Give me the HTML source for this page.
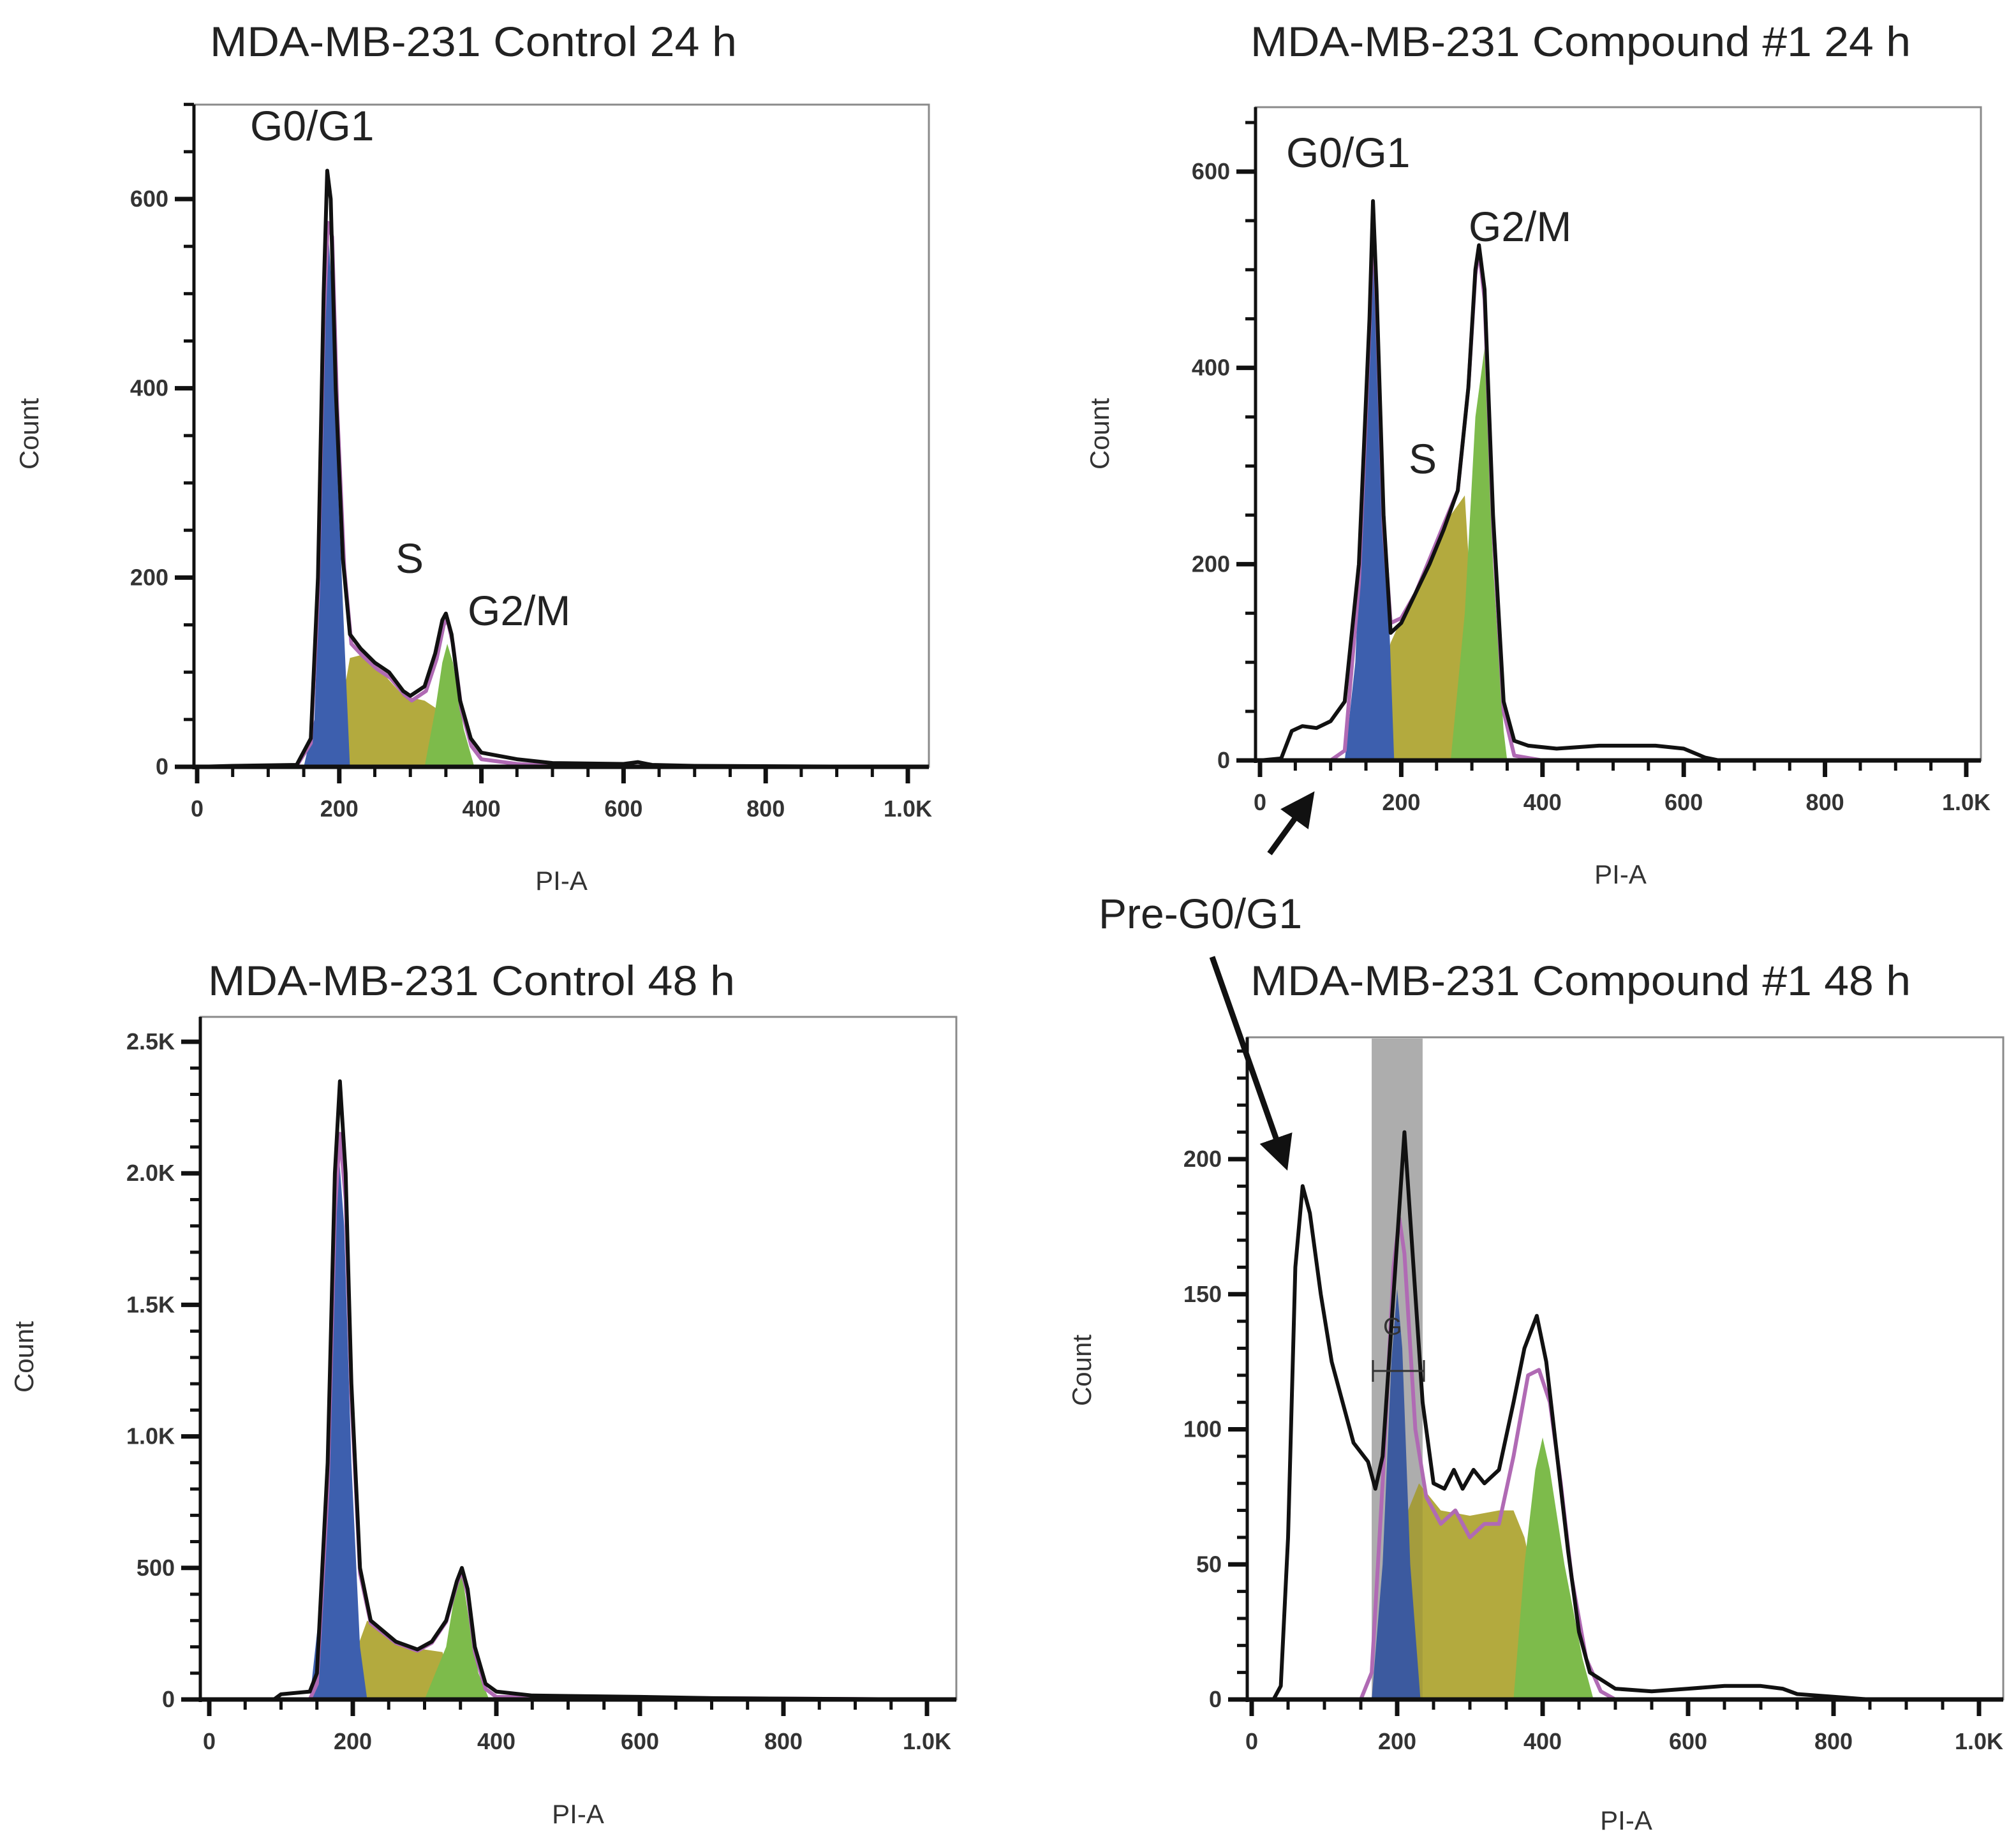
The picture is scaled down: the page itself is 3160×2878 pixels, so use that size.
<!DOCTYPE html>
<html><head><meta charset="utf-8">
<style>
html,body{margin:0;padding:0;background:#fff;}
svg{display:block;}
text{font-family:"Liberation Sans",Arial,sans-serif;}
</style></head>
<body>
<svg id="fig" width="3160" height="2878" viewBox="0 0 3160 2878" xmlns="http://www.w3.org/2000/svg">
<rect width="3160" height="2878" fill="#fff"/>
</svg>
<script>
// ---------- Data (PI-A value, Count) ----------
// Panel 1: Control 24 h
const p1BlackX = [0,50,140,160,170,178,183,188,195,205,215,230,250,270,290,300,320,335,345,350,358,370,385,400,450,500,600,620,640,700,1000];
const p1BlackY = [0,1,2,30,200,500,630,600,400,220,140,125,110,100,80,75,85,120,155,162,140,70,30,15,8,4,3,5,2,1,0];
const p1PurpX = [0,50,140,160,170,178,184,190,197,207,217,232,252,272,292,302,322,337,347,352,360,372,386,400,450,500,700,1000];
const p1PurpY = [0,0,1,25,180,470,575,560,380,210,130,118,104,94,76,70,80,114,150,156,130,60,22,8,3,1,0,0];
const p1BlueX = [150,165,172,178,184,190,198,208,215];
const p1BlueY = [0,50,200,450,570,500,300,120,0];
const p1OliveX = [185,200,215,230,260,290,320,340,365];
const p1OliveY = [0,50,115,118,100,75,70,60,0];
const p1GreenX = [320,335,345,352,360,375,390];
const p1GreenY = [0,60,110,130,110,40,0];

// Panel 2: Compound #1 24 h
const p2BlackX = [0,30,45,60,80,100,120,140,155,160,165,175,185,200,220,240,260,280,295,305,310,318,330,345,360,380,420,480,520,560,600,630,650,1000];
const p2BlackY = [0,2,30,35,33,40,60,200,450,570,480,250,130,140,170,200,235,275,380,500,525,480,250,60,20,15,12,15,15,15,12,3,0,0];
const p2PurpX = [0,100,120,140,155,160,165,175,185,200,220,240,260,280,295,305,310,318,330,345,360,400,1000];
const p2PurpY = [0,0,10,180,440,555,470,240,140,145,170,205,240,275,380,495,520,470,240,50,5,0,0];
const p2BlueX = [120,135,150,160,170,180,190];
const p2BlueY = [0,100,350,540,400,200,0];
const p2OliveX = [150,170,185,210,240,270,290,300,310];
const p2OliveY = [0,80,120,160,200,250,270,150,0];
const p2GreenX = [270,290,305,318,330,345,350];
const p2GreenY = [0,150,350,420,200,30,0];

// Panel 3: Control 48 h
const p3BlackX = [0,90,100,140,150,165,175,182,190,198,210,225,260,290,310,330,345,352,360,370,385,400,450,600,700,1000];
const p3BlackY = [0,0,20,30,100,900,2000,2350,2000,1200,500,300,220,190,220,300,450,500,420,200,60,30,15,10,5,0];
const p3PurpX = [0,140,150,165,175,182,190,198,210,225,260,290,310,330,345,352,360,370,385,400,1000];
const p3PurpY = [0,0,60,800,1850,2150,1900,1150,480,290,215,185,215,295,440,490,400,180,40,10,0];
const p3BlueX = [140,160,172,180,188,198,210,220];
const p3BlueY = [0,500,1500,2100,1800,900,200,0];
const p3OliveX = [180,200,220,260,300,325,345];
const p3OliveY = [0,150,300,210,190,180,0];
const p3GreenX = [300,330,345,352,362,375,390];
const p3GreenY = [0,200,450,480,300,100,0];

// Panel 4: Compound #1 48 h
const p4BlackX = [0,30,40,50,60,70,80,95,110,125,140,160,170,180,195,210,220,235,250,265,278,290,305,320,340,360,375,392,405,420,435,450,465,500,550,600,650,700,730,750,800,850,1000];
const p4BlackY = [0,0,5,60,160,190,180,150,125,110,95,88,78,90,150,210,170,110,80,78,85,78,85,80,85,110,130,142,125,90,55,25,10,4,3,4,5,5,4,2,1,0,0];
const p4PurpX = [150,165,180,195,203,210,225,240,260,280,300,320,340,360,380,395,410,425,440,460,480,500];
const p4PurpY = [0,10,80,160,178,165,100,75,65,70,60,65,65,90,120,122,110,80,45,15,3,0];
const p4BlueX = [165,180,192,200,207,218,232];
const p4BlueY = [0,50,125,152,130,50,0];
const p4OliveX = [200,215,230,260,300,340,360,375,400,430];
const p4OliveY = [0,70,80,70,68,70,70,60,30,0];
const p4GreenX = [360,375,390,400,410,430,455,470];
const p4GreenY = [0,50,85,97,85,50,15,0];
const p4GateRange = [165,235];

// Tick labels
const xTickVals = [0,200,400,600,800,1000];
const xTickLabels = ["0","200","400","600","800","1.0K"];
const p1YTicks = [0,200,400,600];
const p2YTicks = [0,200,400,600];
const p3YTicks = [0,500,1000,1500,2000,2500];
const p3YLabels = ["0","500","1.0K","1.5K","2.0K","2.5K"];
const p4YTicks = [0,50,100,150,200];

// ---------- Rendering ----------
const NS = "http://www.w3.org/2000/svg";
const svg = document.getElementById("fig");
function el(tag, attrs, parent){
  const e = document.createElementNS(NS, tag);
  for (const k in attrs) e.setAttribute(k, attrs[k]);
  (parent||svg).appendChild(e);
  return e;
}

const panels = [
  {id:"p1", box:[304,164,1456,1202], xa:309, xb:1423, ya:1202, yMax:600, yb:312, yTop:700,
   yTicks:p1YTicks, yLabels:p1YTicks.map(String), yMinor:50,
   blackX:p1BlackX, blackY:p1BlackY, purpX:p1PurpX, purpY:p1PurpY,
   blueX:p1BlueX, blueY:p1BlueY, oliveX:p1OliveX, oliveY:p1OliveY, greenX:p1GreenX, greenY:p1GreenY,
   title:"MDA-MB-231 Control 24 h", tx:329, ty:88, tw:826, countX:60, countY:680, piX:880, piY:1395},
  {id:"p2", box:[1968,168,3105,1192], xa:1975, xb:3082, ya:1192, yMax:600, yb:269, yTop:660,
   yTicks:p2YTicks, yLabels:p2YTicks.map(String), yMinor:50,
   blackX:p2BlackX, blackY:p2BlackY, purpX:p2PurpX, purpY:p2PurpY,
   blueX:p2BlueX, blueY:p2BlueY, oliveX:p2OliveX, oliveY:p2OliveY, greenX:p2GreenX, greenY:p2GreenY,
   title:"MDA-MB-231 Compound #1 24 h", tx:1960, ty:88, tw:1035, countX:1738, countY:680, piX:2540, piY:1385},
  {id:"p3", box:[314,1594,1499,2664], xa:328, xb:1453, ya:2664, yMax:2500, yb:1633, yTop:2595,
   yTicks:p3YTicks, yLabels:p3YLabels, yMinor:100,
   blackX:p3BlackX, blackY:p3BlackY, purpX:p3PurpX, purpY:p3PurpY,
   blueX:p3BlueX, blueY:p3BlueY, oliveX:p3OliveX, oliveY:p3OliveY, greenX:p3GreenX, greenY:p3GreenY,
   title:"MDA-MB-231 Control 48 h", tx:326, ty:1560, tw:826, countX:52, countY:2127, piX:906, piY:2858},
  {id:"p4", box:[1955,1626,3140,2664], xa:1962, xb:3102, ya:2664, yMax:200, yb:1817, yTop:245,
   yTicks:p4YTicks, yLabels:p4YTicks.map(String), yMinor:10,
   blackX:p4BlackX, blackY:p4BlackY, purpX:p4PurpX, purpY:p4PurpY,
   blueX:p4BlueX, blueY:p4BlueY, oliveX:p4OliveX, oliveY:p4OliveY, greenX:p4GreenX, greenY:p4GreenY,
   title:"MDA-MB-231 Compound #1 48 h", tx:1960, ty:1560, tw:1035, countX:1710, countY:2148, piX:2549, piY:2868, gate:true}
];

panels.forEach(p=>{
  const g = el("g", {});
  
  
  const X = v => p.xa + (p.xb - p.xa) * v / 1000;
  const Y = v => p.ya - (p.ya - p.yb) * v / p.yMax;
  const [l,t,r,b] = p.box;

  const title = el("text", {x:p.tx, y:p.ty, "font-size":66, fill:"#222", textLength:p.tw, lengthAdjust:"spacingAndGlyphs"}, g);
  title.textContent = p.title;
  
  

  const frame = el("rect", {x:l, y:t, width:r-l, height:b-t, fill:"#fff", stroke:"#8a8a8a", "stroke-width":3}, g);
  
  

  let gateHi = null;
  if (p.gate){
    const gx1 = X(p4GateRange[0]), gx2 = X(p4GateRange[1]);
    const band = el("rect", {x:gx1, y:t+2, width:gx2-gx1, height:p.ya-t-2, fill:"#bdbdbd"}, g);
    
    
    gateHi = [gx1,gx2];
  }

  function area(xs, ys, color, name){
    let d = "M" + X(xs[0]) + "," + Y(0);
    xs.forEach((x,i)=>{ d += " L" + X(x).toFixed(1) + "," + Y(ys[i]).toFixed(1); });
    d += " L" + X(xs[xs.length-1]) + "," + Y(0) + " Z";
    const a = el("path", {d:d, fill:color, stroke:"none"}, g);
    
    
  }
  function line(xs, ys, color, w, name){
    let d = "";
    xs.forEach((x,i)=>{ d += (i?" L":"M") + X(x).toFixed(1) + "," + Y(ys[i]).toFixed(1); });
    const ln = el("path", {d:d, fill:"none", stroke:color, "stroke-width":w, "stroke-linejoin":"round"}, g);
    
    
  }
  area(p.oliveX, p.oliveY, "#b3aa3e", p.id + "-s-phase-area");
  area(p.greenX, p.greenY, "#7dbb4b", p.id + "-g2m-area");
  area(p.blueX, p.blueY, "#3d5fae", p.id + "-g1-area");
  if (gateHi){
    const ov = el("rect", {x:gateHi[0], y:t+2, width:gateHi[1]-gateHi[0], height:p.ya-t-2, fill:"rgba(60,60,60,0.12)"}, g);
    
    
  }
  line(p.purpX, p.purpY, "#b06ab4", 6, p.id + "-model-fit-line");
  line(p.blackX, p.blackY, "#111", 6, p.id + "-data-histogram-line");

  const ax = el("g", {}, g);
  
  
  el("line", {x1:l, y1:p.ya, x2:r, y2:p.ya, stroke:"#111", "stroke-width":7}, ax);
  el("line", {x1:l, y1:t, x2:l, y2:p.ya+4, stroke:"#111", "stroke-width":5}, ax);
  for (let v=0; v<=1000; v+=50){
    const major = v%200===0;
    el("line", {x1:X(v), y1:p.ya, x2:X(v), y2:p.ya+(major?26:16), stroke:"#111", "stroke-width":major?7:5}, ax);
  }
  xTickVals.forEach((v,i)=>{
    const tl = el("text", {x:X(v), y:p.ya+78, "font-size":36, "text-anchor":"middle", fill:"#333", "font-weight":"bold"}, ax);
    tl.textContent = xTickLabels[i];
    
    
  });
  for (let v=0; v<=p.yTop; v+=p.yMinor){
    const major = p.yTicks.indexOf(v) >= 0;
    el("line", {x1:l-(major?30:16), y1:Y(v), x2:l, y2:Y(v), stroke:"#111", "stroke-width":major?7:5}, ax);
  }
  p.yTicks.forEach((v,i)=>{
    const yl = el("text", {x:l-40, y:Y(v)+12, "font-size":36, "text-anchor":"end", fill:"#333", "font-weight":"bold"}, ax);
    yl.textContent = p.yLabels[i];
    
    
  });
  const yt = el("text", {x:p.countX, y:p.countY, "font-size":42, "text-anchor":"middle", fill:"#333", transform:"rotate(-90 "+p.countX+" "+p.countY+")"}, g);
  yt.textContent = "Count";
  
  
  const xt = el("text", {x:p.piX, y:p.piY, "font-size":42, "text-anchor":"middle", fill:"#333"}, g);
  xt.textContent = "PI-A";
  
  
});
</script>
<svg style="position:absolute;left:0;top:0" width="3160" height="2878" viewBox="0 0 3160 2878" xmlns="http://www.w3.org/2000/svg">
  <defs>
    <marker id="ah" markerWidth="6" markerHeight="6" refX="4" refY="3" orient="auto" markerUnits="strokeWidth">
      <path d="M0,0 L6,3 L0,6 Z" fill="#111"/>
    </marker>
  </defs>
  <g font-family="Liberation Sans, Arial, sans-serif" font-size="66" fill="#222">
    <text x="392" y="220">G0/G1</text>
    <text x="620" y="898">S</text>
    <text x="733" y="980">G2/M</text>
    <text x="2016" y="262">G0/G1</text>
    <text x="2208" y="742">S</text>
    <text x="2302" y="378">G2/M</text>
    <text x="1722" y="1455">Pre-G0/G1</text>
  </g>
  <line x1="1990" y1="1338" x2="2050" y2="1255" stroke="#111" stroke-width="9" marker-end="url(#ah)"/>
  <line x1="1900" y1="1500" x2="2012" y2="1818" stroke="#111" stroke-width="9" marker-end="url(#ah)"/>
  <text x="2168" y="2092" font-family="Liberation Sans, Arial, sans-serif" font-size="38" fill="#333">G</text>
  <g stroke="#333" stroke-width="3">
    <line x1="2152" y1="2149" x2="2232" y2="2149"/>
    <line x1="2152" y1="2132" x2="2152" y2="2166"/>
    <line x1="2232" y1="2132" x2="2232" y2="2166"/>
  </g>
</svg>
</body></html>
